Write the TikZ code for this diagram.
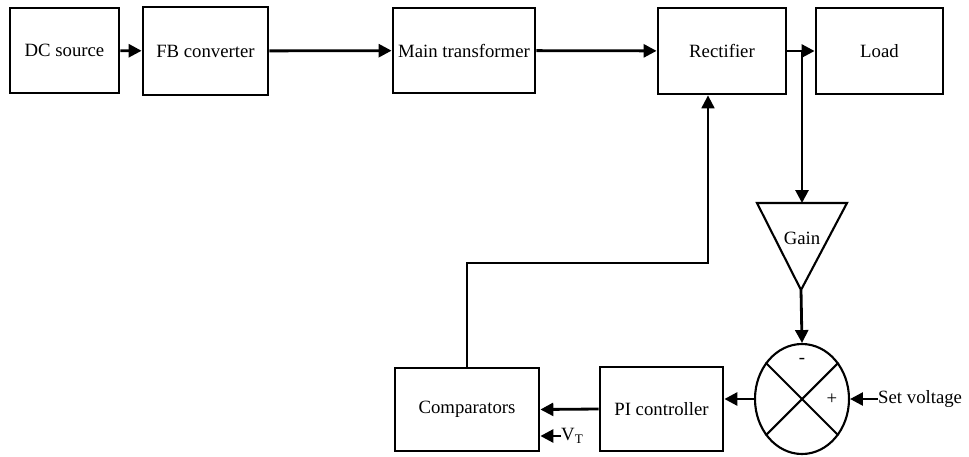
\documentclass[tikz,border=0pt]{standalone}
\usepackage{fontspec}
\setmainfont{Liberation Serif}
\usetikzlibrary{arrows.meta,shapes.geometric}

\begin{document}
\begin{tikzpicture}[x=0.3mm,y=-0.3mm,
	bloque/.style={draw,line width=2.4pt,inner sep=0pt,font=\fontsize{16}{19}\selectfont},
	flecha/.style={line width=2.4pt,-{Triangle[length=11pt,width=11pt]}},
	linea/.style={line width=1.8pt},
	texto/.style={inner sep=0pt,font=\fontsize{16}{19}\selectfont}]
	\useasboundingbox (0,0) rectangle (969,456);
	
	% cadena de potencia
	\node[bloque,minimum width=32.7mm,minimum height=25.5mm] (dc) at (64.5,50.5) {DC source};
	\node[bloque,minimum width=37.5mm,minimum height=26.4mm] (fb) at (205.5,51) {FB converter};
	\node[bloque,minimum width=42.6mm,minimum height=25.5mm] (mt) at (464,50.5) {Main transformer};
	\node[bloque,minimum width=38.4mm,minimum height=25.8mm] (rect) at (722,51) {Rectifier};
	\node[bloque,minimum width=38.1mm,minimum height=25.8mm] (load) at (879.5,51) {Load};
	
	\draw[flecha] (dc) -- (fb);
	\draw[flecha] (fb) -- (mt);
	\draw[flecha] (mt) -- (rect);
	\draw[flecha] (rect) -- (load);
	
	% lazo de control
	\coordinate (br) at (802,51);
	\coordinate (gl) at (757,203);
	\coordinate (gr) at (847,203);
	\coordinate (gtop) at (802,203);
	\coordinate (gapex) at (801,290);
	\draw[linea] (gl) -- (gr) -- (gapex) -- cycle;
	\node[texto] (gain) at (802,238) {Gain};
	\draw[flecha] (br) -- (gtop);
	
	\node[draw,ellipse,line width=1.8pt,inner sep=0pt,minimum width=28.2mm,minimum height=33mm] (sum) at (802,399) {};
	\draw[linea] (sum.135) -- (sum.-45);
	\draw[linea] (sum.45) -- (sum.-135);
	\node[texto] (menos) at (802,361) {-};
	\node[texto] (mas) at (832,399) {+};
	\draw[flecha] (gapex) -- (sum.north);
	
	\node[texto,anchor=west] (setv) at (878,399) {Set voltage};
	\draw[flecha] (setv.west) -- (sum.east);
	
	\node[bloque,minimum width=36.9mm,minimum height=25.2mm] (pi) at (661.5,409) {PI controller};
	\node[bloque,minimum width=43.2mm,minimum height=24.9mm] (comp) at (467,409.5) {Comparators};
	
	\draw[flecha] (sum.west) -- (sum.west -| pi.east);
	\draw[flecha] (pi.west) -- (comp.east);
	\node[texto,anchor=west] (vt) at (561,436) {V\textsubscript{T}};
	\draw[flecha] (vt.west) -- (vt.west -| comp.east);
	
	\coordinate (fbk) at (708,263);
	\draw[linea,-{Triangle[length=11pt,width=11pt]}] (comp.north) |- (fbk) -- (fbk |- rect.south);
\end{tikzpicture}
\end{document}
